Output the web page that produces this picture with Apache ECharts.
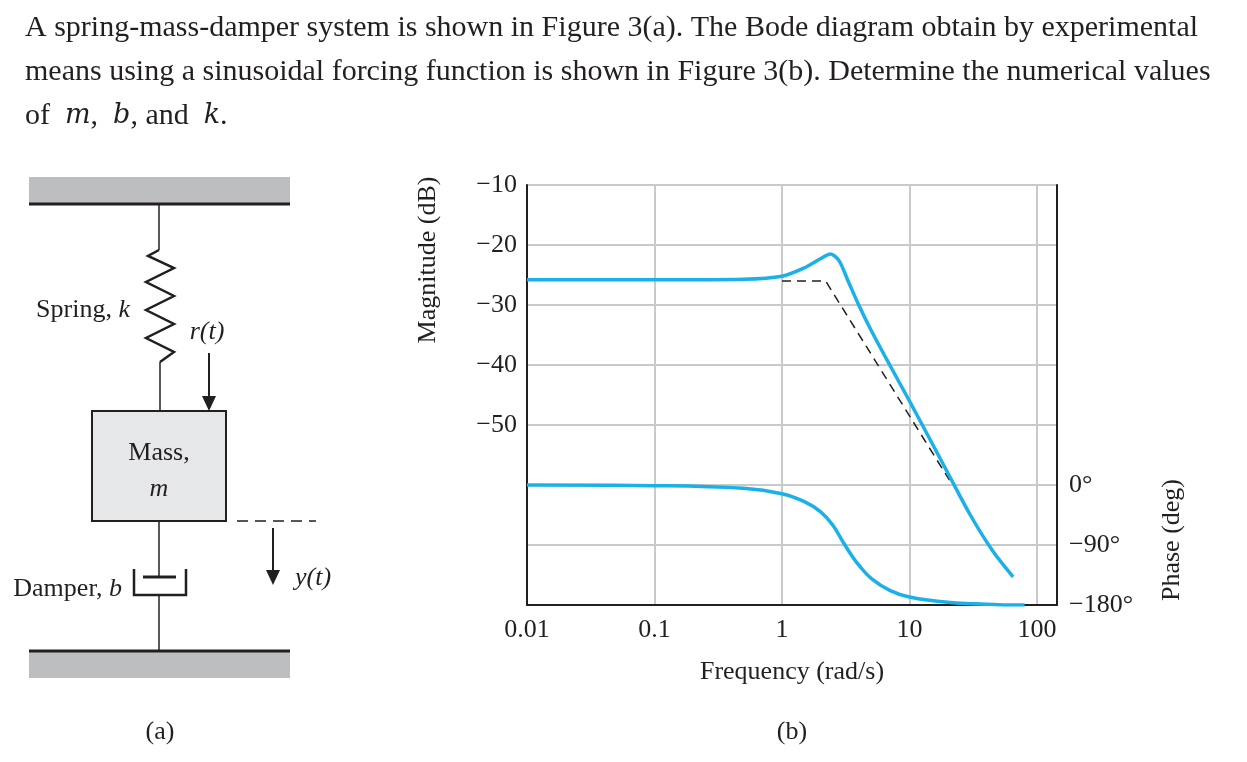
<!DOCTYPE html>
<html>
<head>
<meta charset="utf-8">
<script src="https://cdn.jsdelivr.net/npm/echarts@6/dist/echarts.min.js"></script>
<style>
  html, body { margin: 0; padding: 0; background: #fff; }
  #chart { width: 1247px; height: 762px; }
</style>
</head>
<body>
<div id="chart"></div>
<script>
const magPoints = [
    [0.01, -25.8], [0.1, -25.8], [0.5, -25.7], [1, -25.2], [1.5, -23.8], [2, -22.3],
    [2.4, -21.5], [2.8, -22.6], [3.3, -26], [4, -30], [5, -34.2], [7, -40], [10, -46],
    [15, -53], [20, -58], [30, -65], [45, -71], [65, -75.3]
];
const asymptotePoints = [[1, -26], [2.2, -26], [20.6, -59.2]];
const phasePoints = [
    [0.01, 0], [0.1, -1], [0.5, -5], [1, -13], [1.5, -25], [2, -40], [2.5, -60], [3, -85],
    [3.5, -105], [4, -120], [5, -140], [7, -158], [10, -168], [20, -176], [50, -179.5], [80, -180]
];
const freqTicks = [0.01, 0.1, 1, 10, 100];
const phaseTicks = [0, -90, -180];

const serif = 'Liberation Serif';
const ink = '#231f20';

const chart = echarts.init(document.getElementById('chart'));

// left figure (a): spring-mass-damper sketch
const zig = [[159, 250], [148, 256], [174, 268], [146, 282], [174, 296], [146, 310], [174, 324], [146, 338], [174, 352], [160, 362]];
const diagram = [
    { type: 'rect', shape: { x: 29, y: 177, width: 261, height: 27 }, style: { fill: '#bcbec0' } },
    { type: 'line', shape: { x1: 29, y1: 204, x2: 290, y2: 204 }, style: { stroke: ink, lineWidth: 3 } },
    { type: 'rect', shape: { x: 29, y: 651, width: 261, height: 27 }, style: { fill: '#bcbec0' } },
    { type: 'line', shape: { x1: 29, y1: 651, x2: 290, y2: 651 }, style: { stroke: ink, lineWidth: 3 } },
    { type: 'line', shape: { x1: 159, y1: 204, x2: 159, y2: 250 }, style: { stroke: ink, lineWidth: 1.5 } },
    { type: 'polyline', shape: { points: zig }, style: { stroke: ink, lineWidth: 2.5, fill: null } },
    { type: 'line', shape: { x1: 160, y1: 362, x2: 160, y2: 411 }, style: { stroke: ink, lineWidth: 1.5 } },
    { type: 'rect', shape: { x: 92, y: 411, width: 134, height: 110 }, style: { fill: '#e6e7e8', stroke: ink, lineWidth: 2 } },
    { type: 'text', x: 159, y: 453, style: { text: 'Mass,', font: '26px "' + serif + '"', fill: ink, align: 'center', verticalAlign: 'middle' } },
    { type: 'text', x: 159, y: 489, style: { text: 'm', font: 'italic 26px "' + serif + '"', fill: ink, align: 'center', verticalAlign: 'middle' } },
    { type: 'line', shape: { x1: 159, y1: 521, x2: 159, y2: 577 }, style: { stroke: ink, lineWidth: 1.5 } },
    { type: 'line', shape: { x1: 143, y1: 577, x2: 176, y2: 577 }, style: { stroke: ink, lineWidth: 3 } },
    { type: 'polyline', shape: { points: [[134, 569], [134, 595], [186, 595], [186, 569]] }, style: { stroke: ink, lineWidth: 2.5, fill: null } },
    { type: 'line', shape: { x1: 159, y1: 595, x2: 159, y2: 651 }, style: { stroke: ink, lineWidth: 1.5 } },
    { type: 'line', shape: { x1: 237, y1: 521, x2: 316, y2: 521 }, style: { stroke: ink, lineWidth: 1.5, lineDash: [11, 7] } },
    { type: 'line', shape: { x1: 209, y1: 353, x2: 209, y2: 398 }, style: { stroke: ink, lineWidth: 2 } },
    { type: 'polygon', shape: { points: [[202, 396], [216, 396], [209, 411]] }, style: { fill: ink } },
    { type: 'line', shape: { x1: 273, y1: 528, x2: 273, y2: 572 }, style: { stroke: ink, lineWidth: 2 } },
    { type: 'polygon', shape: { points: [[266, 570], [280, 570], [273, 585]] }, style: { fill: ink } },
    { type: 'text', x: 130, y: 310, style: { text: 'Spring, {i|k}', font: '26px "' + serif + '"', fill: ink, align: 'right', verticalAlign: 'middle', rich: { i: { fontStyle: 'italic', fontFamily: serif, fontSize: 26 } } } },
    { type: 'text', x: 207, y: 332, style: { text: 'r(t)', font: 'italic 26px "' + serif + '"', fill: ink, align: 'center', verticalAlign: 'middle' } },
    { type: 'text', x: 122, y: 589, style: { text: 'Damper, {i|b}', font: '26px "' + serif + '"', fill: ink, align: 'right', verticalAlign: 'middle', rich: { i: { fontStyle: 'italic', fontFamily: serif, fontSize: 26 } } } },
    { type: 'text', x: 313, y: 578, style: { text: 'y(t)', font: 'italic 26px "' + serif + '"', fill: ink, align: 'center', verticalAlign: 'middle' } },
    { type: 'text', x: 160, y: 732, style: { text: '(a)', font: '26px "' + serif + '"', fill: ink, align: 'center', verticalAlign: 'middle' } },
    { type: 'text', x: 792, y: 732, style: { text: '(b)', font: '26px "' + serif + '"', fill: ink, align: 'center', verticalAlign: 'middle' } },
    { type: 'text', x: 792, y: 672, style: { text: 'Frequency (rad/s)', font: '26px "' + serif + '"', fill: ink, align: 'center', verticalAlign: 'middle' } },
    { type: 'text', x: 428, y: 260, rotation: Math.PI / 2, style: { text: 'Magnitude (dB)', font: '26px "' + serif + '"', fill: ink, align: 'center', verticalAlign: 'middle' } },
    { type: 'text', x: 1172, y: 540, rotation: Math.PI / 2, style: { text: 'Phase (deg)', font: '26px "' + serif + '"', fill: ink, align: 'center', verticalAlign: 'middle' } },
    { type: 'line', shape: { x1: 527, y1: 185, x2: 1057, y2: 185 }, style: { stroke: ink, lineWidth: 2 } }
];

const titleLines = [
    'A spring-mass-damper system is shown in Figure 3(a). The Bode diagram obtain by experimental',
    'means using a sinusoidal forcing function is shown in Figure 3(b). Determine the numerical values',
    'of  {i|m},  {i|b}, and  {i|k}.'
];
titleLines.forEach((t, i) => {
    diagram.push({
        type: 'text', x: 25, y: 28 + i * 44,
        style: { text: t, font: '30px "' + serif + '"', fill: ink, verticalAlign: 'middle',
                 rich: { i: { fontStyle: 'italic', fontFamily: 'DejaVu Serif', fontSize: 27 } } }
    });
});

const option = {
    animation: false,
    backgroundColor: '#fff',
    grid: { left: 527, top: 185, width: 530, height: 420, show: false },
    xAxis: {
        type: 'log', logBase: 10, min: 0.01, max: 143.6,
        axisLine: { show: true, onZero: false, lineStyle: { color: ink, width: 2 } },
        axisTick: { show: false },
        axisLabel: {
            fontFamily: serif, fontSize: 26, color: ink, margin: 12,
            showMaxLabel: false,
            formatter: v => freqTicks.some(f => Math.abs(f - v) / f < 1e-6) ? String(v) : ''
        },
        splitLine: { show: true, lineStyle: { color: '#c8c9cb', width: 2 } },
        minorTick: { show: false }
    },
    yAxis: [
        {
            type: 'value', min: -80, max: -10, interval: 10,
            axisLine: { show: true, lineStyle: { color: ink, width: 2 } },
            axisTick: { show: false },
            axisLabel: {
                fontFamily: serif, fontSize: 26, color: ink, margin: 10,
                formatter: v => v >= -50 ? '\u2212' + Math.abs(v) : ''
            },
            splitLine: { show: true, lineStyle: { color: '#c8c9cb', width: 2 } }
        },
        {
            type: 'value', min: -180, max: 450, interval: 90, position: 'right',
            axisLine: { show: true, lineStyle: { color: ink, width: 2 } },
            axisTick: { show: false },
            axisLabel: {
                fontFamily: serif, fontSize: 26, color: ink, margin: 12,
                formatter: v => phaseTicks.includes(v) ? (v < 0 ? '\u2212' + Math.abs(v) : v) + '\u00b0' : ''
            },
            splitLine: { show: false }
        }
    ],
    series: [
        {
            type: 'line', data: asymptotePoints, yAxisIndex: 0, symbol: 'none',
            lineStyle: { color: ink, width: 1.5, type: [9, 6] }
        },
        {
            type: 'line', data: magPoints, yAxisIndex: 0, symbol: 'none', smooth: 0.3,
            lineStyle: { color: '#1ab0e8', width: 3.5 }
        },
        {
            type: 'line', data: phasePoints, yAxisIndex: 1, symbol: 'none', smooth: 0.4,
            lineStyle: { color: '#1ab0e8', width: 3.5 }
        }
    ],
    graphic: diagram
};

chart.setOption(option);
</script>
</body>
</html>
